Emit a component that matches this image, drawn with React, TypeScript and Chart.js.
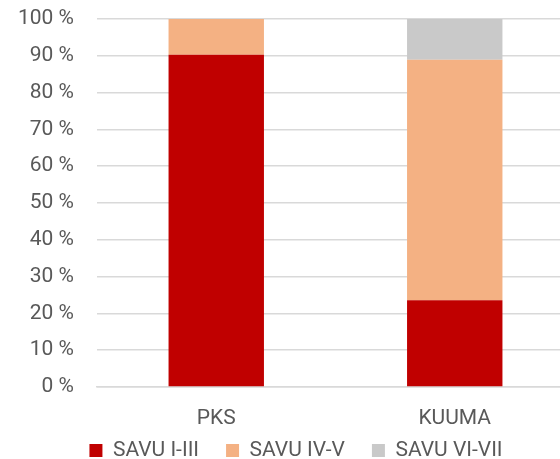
import React, { useEffect, useRef } from "react";
import { Chart, registerables } from "chart.js";

Chart.register(...registerables);

const categories = ["PKS", "KUUMA"];
const seriesNames = ["SAVU I-III", "SAVU IV-V", "SAVU VI-VII"];
const savu1to3 = [90.3, 23.6];
const savu4to5 = [9.7, 65.3];
const savu6to7 = [0, 11.1];
const colors = ["#C00000", "#F4B183", "#C9C9C9"];

const FONT = "Roboto, 'Liberation Sans', Arial, sans-serif";
const TEXT = "#595959";

const legendPlacePlugin = {
  id: "legendPlace",
  beforeLayout(chart: any) {
    const l = chart.legend;
    if (l && !l._patched) {
      const orig = l.fit;
      l.fit = function () {
        orig.call(this);
        this.height = 28;
      };
      l._patched = true;
    }
  },
  afterLayout(chart: any) {
    const l = chart.legend;
    if (l) {
      l.top = 413;
      l.bottom = chart.height;
      l.height = l.bottom - l.top;
      l.left = 9;
      l.right = chart.width + 9;
      l.width = l.right - l.left;
    }
  },
};

export default function App() {
  const ref = useRef<HTMLCanvasElement | null>(null);
  useEffect(() => {
    const ctx = ref.current!;
    const chart = new Chart(ctx, {
      type: "bar",
      data: {
        labels: categories,
        datasets: [savu1to3, savu4to5, savu6to7].map((d, i) => ({
          label: seriesNames[i],
          data: d,
          backgroundColor: colors[i],
          borderWidth: 0,
          categoryPercentage: 1,
          barPercentage: 0.4,
        })),
      },
      plugins: [legendPlacePlugin],
      options: {
        responsive: false,
        animation: false,
        layout: { padding: { top: 19, right: 0, left: 0, bottom: 0 } },
        plugins: {
          tooltip: { enabled: false },
          legend: {
            position: "bottom",
            labels: {
              boxWidth: 13,
              boxHeight: 13,
              padding: 27,
              color: TEXT,
              font: { family: FONT, size: 21 },
            },
          },
        },
        scales: {
          x: {
            stacked: true,
            grid: { display: false, drawTicks: false },
            border: { color: "#D9D9D9", width: 1.5 },
            ticks: {
              color: TEXT,
              font: { family: FONT, size: 21 },
              padding: 19,
            },
            afterFit: (s: any) => {
              s.height = 44;
            },
          },
          y: {
            stacked: true,
            min: 0,
            max: 100,
            ticks: {
              stepSize: 10,
              color: TEXT,
              font: { family: FONT, size: 21 },
              padding: 23,
              callback: (v: any) => v + " %",
            },
            grid: { color: "#D9D9D9", lineWidth: 1.5, drawTicks: false },
            border: { display: false },
            afterFit: (s: any) => {
              s.width = 97;
              s.paddingTop = 0;
              s.paddingBottom = 0;
            },
          },
        },
      },
    });
    return () => chart.destroy();
  }, []);
  return (
    <div
      style={{
        position: "fixed",
        left: 0,
        top: 0,
        width: 560,
        height: 459,
        overflow: "hidden",
        background: "#fff",
      }}
    >
      <canvas ref={ref} width={574} height={459} />
    </div>
  );
}
